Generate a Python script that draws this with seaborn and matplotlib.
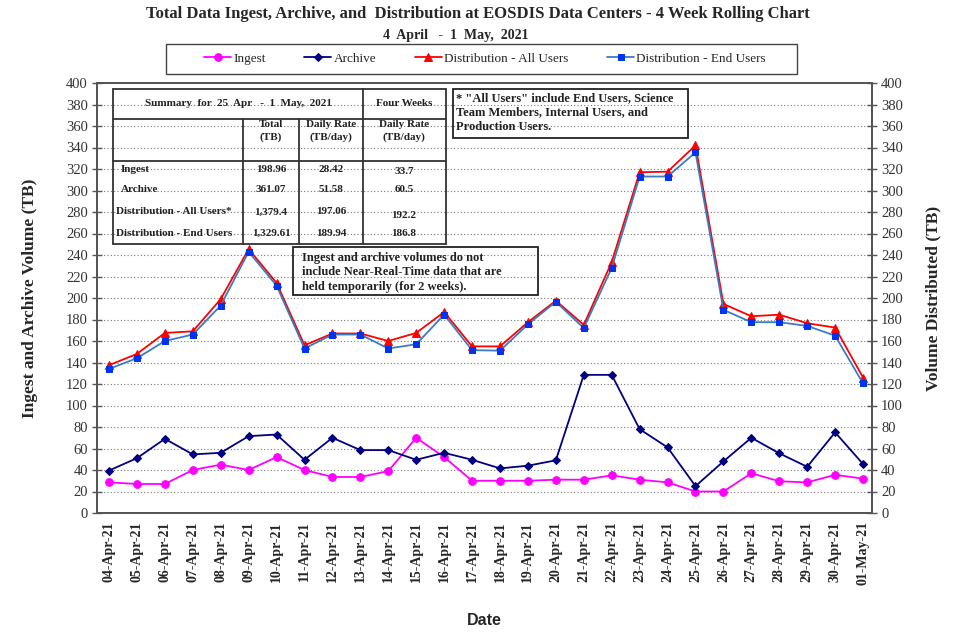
import numpy as np
import pandas as pd
import seaborn as sns
import matplotlib
matplotlib.use('Agg')
import matplotlib.pyplot as plt
from matplotlib.lines import Line2D
from matplotlib.patches import Rectangle

## chart values (TB per day)
dates = ['04-Apr-21', '05-Apr-21', '06-Apr-21', '07-Apr-21', '08-Apr-21', '09-Apr-21', '10-Apr-21',
         '11-Apr-21', '12-Apr-21', '13-Apr-21', '14-Apr-21', '15-Apr-21', '16-Apr-21', '17-Apr-21',
         '18-Apr-21', '19-Apr-21', '20-Apr-21', '21-Apr-21', '22-Apr-21', '23-Apr-21', '24-Apr-21',
         '25-Apr-21', '26-Apr-21', '27-Apr-21', '28-Apr-21', '29-Apr-21', '30-Apr-21', '01-May-21']
ingest = [28.5, 27, 27, 40, 45, 40, 52, 40, 33.5, 33.5, 39, 70, 52, 30,
          30, 30, 31, 31, 35, 31, 28.5, 20, 20, 37, 29.5, 28.5, 35.5, 32]
archive = [39.5, 51, 69, 54.5, 56, 71.5, 73, 49.5, 70, 58.5, 58.5, 49.5, 56, 49.5,
           41.5, 44, 49, 128.5, 128.5, 78, 61, 25, 48, 70, 55.5, 43, 75, 45.5]
all_users = [137.5, 148, 167.5, 169, 199, 245.5, 214, 156, 167, 167, 160, 167.5, 187, 155,
             155, 177.5, 197.5, 175, 233.5, 317, 317.5, 342, 194.5, 183, 184.5, 176.5, 172.5, 126]
end_users = [134, 144, 160, 166, 193, 243, 211.5, 153, 166, 166, 153, 157, 184.5, 151.5,
             151, 175.5, 196.5, 172, 228, 313, 313, 335.5, 189, 177.5, 177.5, 174, 165, 120.5]

## summary table
row_names = ['Ingest', 'Archive', 'Distribution - All Users*', 'Distribution - End Users']
week_total = ['198.96', '361.07', '1,379.4', '1,329.61']
week_rate = ['28.42', '51.58', '197.06', '189.94']
four_week_rate = ['33.7', '60.5', '192.2', '186.8']

df = pd.DataFrame({'Date': dates, 'x': np.arange(len(dates)), 'Ingest': ingest, 'Archive': archive,
                   'All': all_users, 'End': end_users})

sns.set_style('white')
plt.rcParams['font.family'] = ['Liberation Serif', 'DejaVu Serif']

W, H = 955, 636
fig = plt.figure(figsize=(W / 100, H / 100), dpi=100)
fig.subplots_adjust(left=97 / W, right=872 / W, bottom=1 - 513 / H, top=1 - 83 / H)
ax = fig.add_subplot(111)
ax2 = ax.twinx()

def fx(px):
    return px / W

def fy(py):
    return 1 - py / H

sns.lineplot(data=df, x='x', y='Ingest', ax=ax, color='#FF00FF', marker='o', markersize=5.5,
             markeredgecolor='#FF00FF', linewidth=1.3, label='Ingest', legend=False)
sns.lineplot(data=df, x='x', y='Archive', ax=ax, color='#000080', marker='D', markersize=4,
             markeredgecolor='#000080', linewidth=1.3, label='Archive', legend=False)
sns.lineplot(data=df, x='x', y='All', ax=ax2, color='#FF0000', marker='^', markersize=5.5,
             markeredgecolor='#FF0000', linewidth=1.3, label='Distribution - All Users', legend=False)
sns.lineplot(data=df, x='x', y='End', ax=ax2, color='#3A7CC4', marker='s', markersize=5,
             markerfacecolor='#0033EE', markeredgecolor='#0033EE', linewidth=1.3,
             label='Distribution - End Users', legend=False)

yt = np.arange(0, 401, 20)
for a in (ax, ax2):
    a.set_ylim(0, 400)
    a.set_yticks(yt)
    a.set_yticklabels([str(v) for v in yt], fontsize=10.5, color='#333333')
    a.tick_params(axis='y', direction='inout', length=7, width=1, color='#555555', pad=3)
    a.set_xlim(-0.43, 27.32)
    for s in a.spines.values():
        s.set_color('#555555')
        s.set_linewidth(1.3)

ax.yaxis.grid(True, linestyle=(0, (1, 2)), color='#777777', linewidth=0.8)
ax.set_axisbelow(True)

ax.set_xticks(df['x'])
ax.set_xticklabels(dates, rotation=90, fontsize=10, fontweight='bold')
ax.set_xticks(df['x'][:-1] + 0.5, minor=True)
ax.tick_params(axis='x', which='major', length=0, pad=6)
ax.tick_params(axis='x', which='minor', direction='inout', length=7, width=1, color='#555555')

ax.set_xlabel('Date', fontsize=11.5, fontweight='bold', family=['Liberation Sans'], labelpad=20)
ax.set_ylabel('Ingest and Archive Volume (TB)', fontsize=12.5, fontweight='bold', labelpad=20)
ax2.set_ylabel('Volume Distributed (TB)', fontsize=12.5, fontweight='bold', labelpad=16)
ax2.set_xlabel('')

fig.text(fx(478), fy(14), 'Total Data Ingest, Archive, and  Distribution at EOSDIS Data Centers - 4 Week Rolling Chart',
         ha='center', va='center', fontsize=12, fontweight='bold')
fig.text(fx(456), fy(36), '4  April   -  1  May,  2021', ha='center', va='center', fontsize=10, fontweight='bold')

handles = ax.get_lines()[:2] + ax2.get_lines()[:2]
labels = ['Ingest', 'Archive', 'Distribution - All Users', 'Distribution - End Users']
leg = fig.legend(handles, labels, loc='center', ncol=4, bbox_to_anchor=(fx(485), fy(58.5)),
                 frameon=False, fontsize=9.5, handlelength=2.05, handletextpad=0.15,
                 columnspacing=2.95, borderaxespad=0)
fig.add_artist(Rectangle((fx(166), fy(74)), fx(797) - fx(166), fy(44) - fy(74),
                         fill=False, edgecolor='#444444', linewidth=1.0))

## summary table drawn in figure pixels
lc = '#333333'
def hline(x0, x1, y, lw=1.3):
    fig.add_artist(Line2D([fx(x0), fx(x1)], [fy(y), fy(y)], color=lc, linewidth=lw))

def vline(x, y0, y1, lw=1.3):
    fig.add_artist(Line2D([fx(x), fx(x)], [fy(y0), fy(y1)], color=lc, linewidth=lw))

hline(113, 446, 89)
hline(113, 446, 118.5)
hline(113, 446, 160.5)
hline(113, 446, 244)
vline(113, 89, 244)
vline(446, 89, 244)
vline(363, 89, 244)
vline(243, 118.5, 244)
vline(299, 118.5, 244)

tk = dict(fontsize=8, fontweight='bold', color='#222222', va='center')
fig.text(fx(238), fy(103), 'Summary  for  25  Apr   -  1  May,  2021', ha='center', **tk)
fig.text(fx(404), fy(103), 'Four Weeks', ha='center', **tk)
fig.text(fx(271), fy(131), 'Total\n(TB)', ha='center', linespacing=1.5, **tk)
fig.text(fx(331), fy(131), 'Daily Rate\n(TB/day)', ha='center', linespacing=1.5, **tk)
fig.text(fx(404), fy(131), 'Daily Rate\n(TB/day)', ha='center', linespacing=1.5, **tk)
row_y = [169.5, 190, 212, 233]
row_x = [121, 121, 116, 116]
four_y = [171, 190, 215, 233]
for i in range(4):
    fig.text(fx(row_x[i]), fy(row_y[i]), row_names[i], ha='left', **tk)
    fig.text(fx(271), fy(row_y[i]), week_total[i], ha='center', **tk)
    fig.text(fx(331), fy(row_y[i]), week_rate[i], ha='center', **tk)
    fig.text(fx(404), fy(four_y[i]), four_week_rate[i], ha='center', **tk)

## note boxes
for (x0, y0, x1, y1) in [(453, 89, 688, 138), (293, 247, 538, 295)]:
    fig.add_artist(Rectangle((fx(x0), fy(y1)), fx(x1) - fx(x0), fy(y0) - fy(y1),
                             fill=False, edgecolor='#222222', linewidth=1.3))
fig.text(fx(456), fy(92), '* "All Users" include End Users, Science\nTeam Members, Internal Users, and\nProduction Users.',
         ha='left', va='top', fontsize=9, fontweight='bold', linespacing=1.27, color='#222222')
fig.text(fx(302), fy(252), 'Ingest and archive volumes do not\ninclude Near-Real-Time data that are\nheld temporarily (for 2 weeks).',
         ha='left', va='top', fontsize=9, fontweight='bold', linespacing=1.27, color='#222222')

plt.savefig('out.png', dpi=100)
